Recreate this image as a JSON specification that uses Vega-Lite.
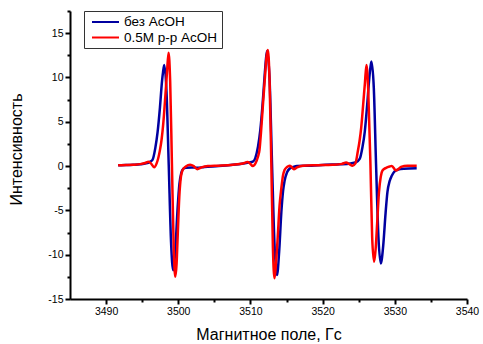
{
  "$schema": "https://vega.github.io/schema/vega-lite/v6.json",
  "width": 397,
  "height": 288,
  "autosize": {"type": "none"},
  "padding": {"left": 70, "top": 11, "right": 16, "bottom": 45},
  "background": "white",
  "config": {
    "view": {"stroke": null},
    "font": "Liberation Sans",
    "axis": {
      "grid": false,
      "domainColor": "black",
      "tickColor": "black",
      "labelColor": "black",
      "titleColor": "black",
      "labelFont": "Liberation Sans",
      "titleFont": "Liberation Sans",
      "titleFontWeight": "normal"
    }
  },
  "datasets": {
    "blue": [
      {"x": 3491.67, "y": 0.1}, {"x": 3492.76, "y": 0.12}, {"x": 3493.75, "y": 0.15}, {"x": 3494.73, "y": 0.2},
      {"x": 3495.52, "y": 0.3}, {"x": 3496.02, "y": 0.45}, {"x": 3496.43, "y": 0.7}, {"x": 3496.81, "y": 2.0},
      {"x": 3497.13, "y": 3.8}, {"x": 3497.46, "y": 6.6}, {"x": 3497.75, "y": 9.6}, {"x": 3497.89, "y": 10.6},
      {"x": 3498.06, "y": 11.4}, {"x": 3498.37, "y": 8.4}, {"x": 3498.68, "y": 0.1}, {"x": 3499.0, "y": -8.6},
      {"x": 3499.3, "y": -11.75}, {"x": 3499.62, "y": -9.0}, {"x": 3499.92, "y": -4.6}, {"x": 3500.16, "y": -2.0},
      {"x": 3500.41, "y": -0.8}, {"x": 3500.65, "y": -0.35}, {"x": 3501.05, "y": -0.2}, {"x": 3501.84, "y": -0.15},
      {"x": 3502.63, "y": -0.2}, {"x": 3503.62, "y": -0.1}, {"x": 3505.59, "y": 0.0}, {"x": 3507.56, "y": 0.15},
      {"x": 3509.04, "y": 0.3}, {"x": 3509.83, "y": 0.4}, {"x": 3510.33, "y": 0.5}, {"x": 3510.67, "y": 0.9},
      {"x": 3511.05, "y": 2.2}, {"x": 3511.37, "y": 4.1}, {"x": 3511.7, "y": 7.2}, {"x": 3512.0, "y": 10.6},
      {"x": 3512.13, "y": 11.9}, {"x": 3512.3, "y": 13.0}, {"x": 3512.65, "y": 9.8}, {"x": 3512.99, "y": 0.2},
      {"x": 3513.34, "y": -9.0}, {"x": 3513.68, "y": -12.3}, {"x": 3513.98, "y": -9.6}, {"x": 3514.28, "y": -5.2},
      {"x": 3514.52, "y": -2.8}, {"x": 3514.72, "y": -1.7}, {"x": 3515.07, "y": -0.7}, {"x": 3515.41, "y": -0.3},
      {"x": 3515.95, "y": -0.1}, {"x": 3516.45, "y": 0.0}, {"x": 3518.42, "y": 0.05}, {"x": 3520.4, "y": 0.15},
      {"x": 3522.37, "y": 0.2}, {"x": 3523.85, "y": 0.3}, {"x": 3524.64, "y": 0.45}, {"x": 3525.13, "y": 0.8},
      {"x": 3525.51, "y": 2.1}, {"x": 3525.84, "y": 3.9}, {"x": 3526.16, "y": 6.8}, {"x": 3526.46, "y": 9.9},
      {"x": 3526.6, "y": 11.0}, {"x": 3526.76, "y": 11.8}, {"x": 3527.09, "y": 8.8}, {"x": 3527.4, "y": 0.2},
      {"x": 3527.73, "y": -8.0}, {"x": 3528.06, "y": -11.0}, {"x": 3528.39, "y": -9.0}, {"x": 3528.72, "y": -5.3},
      {"x": 3528.98, "y": -2.9}, {"x": 3529.28, "y": -1.7}, {"x": 3529.58, "y": -1.1}, {"x": 3529.97, "y": -0.6},
      {"x": 3530.46, "y": -0.4}, {"x": 3531.25, "y": -0.3}, {"x": 3533.03, "y": -0.25}
    ],
    "red": [
      {"x": 3491.67, "y": 0.1}, {"x": 3492.76, "y": 0.12}, {"x": 3493.75, "y": 0.15}, {"x": 3494.73, "y": 0.22},
      {"x": 3495.42, "y": 0.35}, {"x": 3495.88, "y": 0.5}, {"x": 3496.21, "y": 0.3}, {"x": 3496.67, "y": -0.14},
      {"x": 3497.0, "y": 0.3}, {"x": 3497.46, "y": 1.8}, {"x": 3497.69, "y": 3.0}, {"x": 3497.92, "y": 4.8},
      {"x": 3498.2, "y": 7.8}, {"x": 3498.43, "y": 10.5}, {"x": 3498.65, "y": 12.8}, {"x": 3498.88, "y": 9.5},
      {"x": 3499.12, "y": 0.3}, {"x": 3499.37, "y": -9.3}, {"x": 3499.59, "y": -12.5}, {"x": 3499.77, "y": -11.0},
      {"x": 3499.9, "y": -8.3}, {"x": 3500.14, "y": -3.5}, {"x": 3500.37, "y": -1.2}, {"x": 3500.61, "y": -0.44},
      {"x": 3501.05, "y": -0.05}, {"x": 3501.64, "y": 0.15}, {"x": 3502.14, "y": 0.0}, {"x": 3502.63, "y": -0.35},
      {"x": 3503.22, "y": -0.15}, {"x": 3504.11, "y": 0.0}, {"x": 3505.59, "y": 0.05}, {"x": 3507.56, "y": 0.15},
      {"x": 3508.95, "y": 0.3}, {"x": 3509.59, "y": 0.45}, {"x": 3509.93, "y": 0.3}, {"x": 3510.33, "y": 0.0},
      {"x": 3510.72, "y": 0.35}, {"x": 3511.02, "y": 1.0}, {"x": 3511.25, "y": 1.8}, {"x": 3511.46, "y": 3.8},
      {"x": 3511.71, "y": 6.7}, {"x": 3512.05, "y": 10.5}, {"x": 3512.22, "y": 12.3}, {"x": 3512.4, "y": 13.1},
      {"x": 3512.65, "y": 9.6}, {"x": 3512.89, "y": 0.3}, {"x": 3513.11, "y": -9.2}, {"x": 3513.34, "y": -12.65},
      {"x": 3513.54, "y": -11.0}, {"x": 3513.78, "y": -8.0}, {"x": 3514.03, "y": -4.5}, {"x": 3514.28, "y": -2.5},
      {"x": 3514.52, "y": -1.0}, {"x": 3514.72, "y": -0.45}, {"x": 3515.07, "y": -0.1}, {"x": 3515.41, "y": 0.05},
      {"x": 3515.71, "y": -0.1}, {"x": 3516.01, "y": -0.36}, {"x": 3516.45, "y": -0.15}, {"x": 3517.24, "y": 0.05},
      {"x": 3519.41, "y": 0.1}, {"x": 3521.38, "y": 0.15}, {"x": 3522.67, "y": 0.25}, {"x": 3523.26, "y": 0.4},
      {"x": 3523.65, "y": 0.25}, {"x": 3524.15, "y": 0.05}, {"x": 3524.54, "y": 0.3}, {"x": 3524.88, "y": 1.7},
      {"x": 3525.11, "y": 2.8}, {"x": 3525.34, "y": 4.3}, {"x": 3525.62, "y": 7.0}, {"x": 3525.86, "y": 9.4},
      {"x": 3526.07, "y": 11.4}, {"x": 3526.32, "y": 8.5}, {"x": 3526.62, "y": 0.3}, {"x": 3526.86, "y": -8.0},
      {"x": 3527.13, "y": -10.8}, {"x": 3527.33, "y": -9.5}, {"x": 3527.55, "y": -6.5}, {"x": 3527.8, "y": -3.0},
      {"x": 3528.05, "y": -1.2}, {"x": 3528.29, "y": -0.5}, {"x": 3528.79, "y": -0.2}, {"x": 3529.28, "y": -0.05},
      {"x": 3529.58, "y": 0.0}, {"x": 3530.17, "y": -0.5}, {"x": 3530.86, "y": -0.1}, {"x": 3531.75, "y": 0.05},
      {"x": 3533.03, "y": 0.05}
    ]
  },
  "layer": [
    {
      "data": {"name": "blue"},
      "mark": {"type": "line", "interpolate": "monotone", "strokeWidth": 2.5},
      "encoding": {
        "x": {
          "field": "x", "type": "quantitative",
          "scale": {"domain": [3485, 3540], "nice": false, "zero": false},
          "axis": {
            "orient": "bottom",
            "values": [3490, 3500, 3510, 3520, 3530, 3540],
            "labelExpr": "'' + datum.value",
            "title": "Магнитное поле, Гс",
            "titleFontSize": 16,
            "titlePadding": 10,
            "labelFontSize": 10.5,
            "labelPadding": 2,
            "tickSize": 5,
            "tickWidth": 2,
            "domainWidth": 2,
            "labelFlush": false
          }
        },
        "y": {
          "field": "y", "type": "quantitative",
          "scale": {"domain": [-15, 17.5], "nice": false, "zero": false},
          "axis": {
            "orient": "left",
            "values": [-15, -10, -5, 0, 5, 10, 15],
            "labelExpr": "'' + datum.value",
            "title": "Интенсивность",
            "titleFontSize": 16,
            "titlePadding": 23,
            "titleY": 138,
            "labelFontSize": 10.5,
            "labelPadding": 2,
            "tickSize": 5,
            "tickWidth": 2,
            "domainWidth": 2
          }
        },
        "color": {
          "datum": "без AcOH",
          "type": "nominal",
          "scale": {"domain": ["без AcOH", "0.5M р-р AcOH"], "range": ["#0000a0", "#ff0000"]},
          "legend": {
            "title": null,
            "orient": "none",
            "legendX": 14,
            "legendY": 0,
            "symbolType": "M-0.5,0H4",
            "symbolSize": 144,
            "symbolStrokeWidth": 2,
            "labelFont": "Liberation Sans",
            "labelFontSize": 13.5,
            "labelColor": "black",
            "labelOffset": 22,
            "padding": 4,
            "rowPadding": 1.5,
            "strokeColor": "#333333",
            "fillColor": "white"
          }
        }
      }
    },
    {
      "data": {"name": "red"},
      "mark": {"type": "line", "interpolate": "monotone", "strokeWidth": 2.5},
      "encoding": {
        "x": {
          "field": "x", "type": "quantitative",
          "axis": {
            "orient": "bottom",
            "values": [3495, 3505, 3515, 3525, 3535],
            "labels": false,
            "domain": false,
            "title": null,
            "tickSize": 3,
            "tickWidth": 2
          }
        },
        "y": {
          "field": "y", "type": "quantitative",
          "axis": {
            "orient": "left",
            "values": [-12.5, -7.5, -2.5, 2.5, 7.5, 12.5, 17.5],
            "labels": false,
            "domain": false,
            "title": null,
            "tickSize": 3,
            "tickWidth": 2
          }
        },
        "color": {"datum": "0.5M р-р AcOH", "type": "nominal"}
      }
    }
  ],
  "resolve": {"axis": {"x": "independent", "y": "independent"}}
}
